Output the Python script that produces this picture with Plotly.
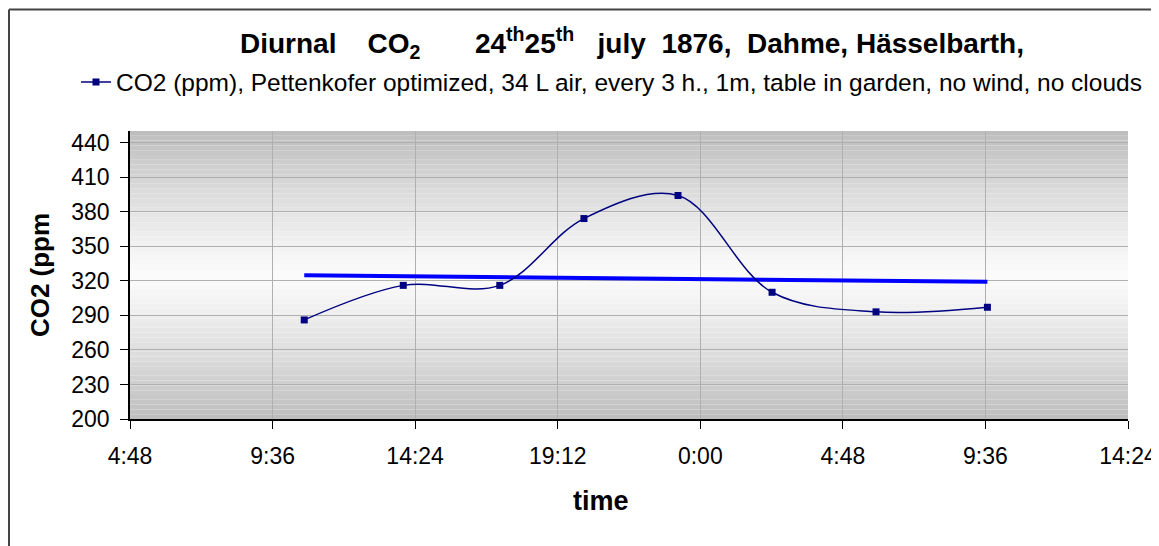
import plotly.graph_objects as go

# ---- data ----
sample_times = [
    "1876-07-24 10:40", "1876-07-24 14:00", "1876-07-24 17:15", "1876-07-24 20:05",
    "1876-07-24 23:15", "1876-07-25 02:25", "1876-07-25 05:55", "1876-07-25 09:40",
]
co2_ppm = [286, 316, 316, 374, 394, 310, 293, 297]

trend_times = ["1876-07-24 10:40", "1876-07-25 09:40"]
trend_ppm = [324.7, 319.1]

x_range = ["1876-07-24 04:48", "1876-07-25 14:24"]
y_range = [200, 450]
y_ticks = [200, 230, 260, 290, 320, 350, 380, 410, 440]

series_name = ("CO2 (ppm), Pettenkofer optimized, 34 L air, every 3 h., 1m, "
               "table in garden, no wind, no clouds")
NB = "\u00a0"
title_text = ("<b>Diurnal" + NB * 4 + "CO<sub>2</sub>" + NB * 7 + "24<sup>th</sup>25<sup>th</sup>"
              + NB * 3 + "july" + NB * 2 + "1876," + NB * 2 + "Dahme, Hässelbarth,</b>")

FONT = "Liberation Sans, Arial, sans-serif"

# page is drawn with an 8px body margin; figure pixel = page pixel - 8
OFF = 8
FIG_W, FIG_H = 1159 - OFF, 546 - OFF
P_L, P_R, P_T, P_B = 130 - OFF, 1128 - OFF, 130.5 - OFF, 418.7 - OFF


def paper_x(page_px):
    return (page_px - OFF - P_L) / (P_R - P_L)


def paper_y(page_py):
    return (P_B - (page_py - OFF)) / (P_B - P_T)


def cont_x(page_px):
    return (page_px - OFF) / FIG_W


def cont_y(page_py):
    return 1 - (page_py - OFF) / FIG_H


fig = go.Figure()

fig.add_trace(go.Scatter(
    x=trend_times, y=trend_ppm, mode="lines",
    line=dict(color="#0000ff", width=4),
    showlegend=False, hoverinfo="skip",
))

fig.add_trace(go.Scatter(
    x=sample_times, y=co2_ppm, mode="lines+markers",
    name=series_name,
    line=dict(color="#000080", width=1.5, shape="spline", smoothing=1.0),
    marker=dict(symbol="square", size=7, color="#000080"),
))

# background vertical gradient (dark at top/bottom, light in the middle)
shapes = []
n_bands = 60
for i in range(n_bands):
    f0 = i / n_bands
    f1 = (i + 1) / n_bands
    t = abs((f0 + f1) / 2 - 0.5) * 2
    g = int(round(251 - 62 * t ** 1.2))
    shapes.append(dict(
        type="rect", xref="paper", yref="paper", x0=0, x1=1, y0=f0, y1=f1,
        fillcolor=f"rgb({g},{g},{g})", line=dict(width=0), layer="below",
    ))

# outer chart frame (left and top edges visible)
shapes.append(dict(type="line", xref="paper", yref="paper",
                   x0=paper_x(9), x1=paper_x(9), y0=paper_y(9), y1=paper_y(600),
                   line=dict(color="#444444", width=2)))
shapes.append(dict(type="line", xref="paper", yref="paper",
                   x0=paper_x(9), x1=paper_x(1200), y0=paper_y(9), y1=paper_y(9),
                   line=dict(color="#444444", width=2)))

fig.update_layout(
    width=FIG_W, height=FIG_H,
    margin=dict(l=P_L, r=FIG_W - P_R, t=P_T, b=FIG_H - P_B, autoexpand=False),
    paper_bgcolor="white",
    plot_bgcolor="white",
    font=dict(family=FONT, size=23, color="black"),
    title=dict(text=title_text, x=cont_x(632), xanchor="center",
               y=cont_y(43), yanchor="middle", xref="container", yref="container",
               font=dict(family=FONT, size=28, color="black")),
    showlegend=True,
    legend=dict(
        xref="container", yref="container",
        x=cont_x(76), y=cont_y(82), xanchor="left", yanchor="middle",
        orientation="h", bgcolor="rgba(0,0,0,0)",
        font=dict(family=FONT, size=24.5, color="black"),
        itemwidth=30,
    ),
    shapes=shapes,
    annotations=[dict(
        text="<b>time</b>", xref="paper", yref="paper",
        x=paper_x(601), y=paper_y(501), xanchor="center", yanchor="middle",
        showarrow=False, font=dict(family=FONT, size=27, color="black"),
    )],
    xaxis=dict(
        type="date", range=x_range,
        tick0=x_range[0], dtick=4.8 * 3600 * 1000, tickformat="%-H:%M",
        showgrid=True, gridcolor="#b0b0b0", gridwidth=1,
        showline=True, linecolor="black", linewidth=1.5,
        ticks="outside", ticklen=8, tickcolor="black",
        ticklabelstandoff=8,
        tickfont=dict(family=FONT, size=23),
        zeroline=False,
    ),
    yaxis=dict(
        range=y_range, tickvals=y_ticks,
        showgrid=True, gridcolor="#b0b0b0", gridwidth=1,
        showline=True, linecolor="black", linewidth=1.5,
        ticks="outside", ticklen=8, tickcolor="black",
        ticklabelstandoff=6,
        tickfont=dict(family=FONT, size=23),
        zeroline=False,
        title=dict(text="<b>CO2 (ppm</b>", standoff=14,
                   font=dict(family=FONT, size=26)),
    ),
)

fig.write_html("out.html")
